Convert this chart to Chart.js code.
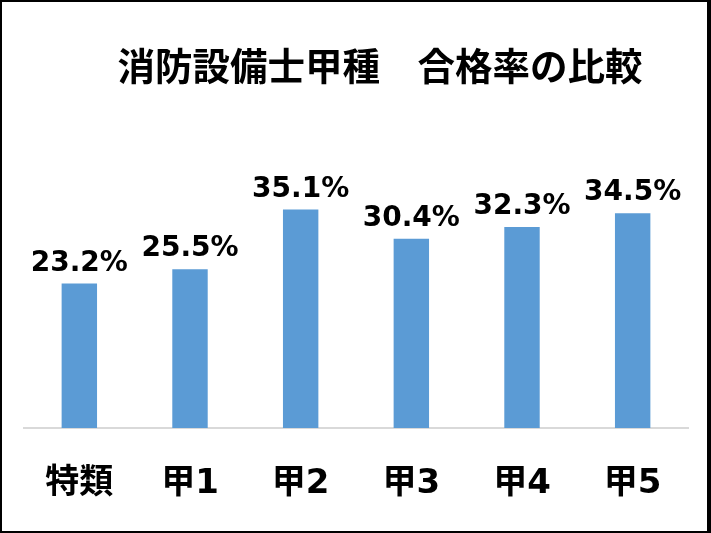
<!DOCTYPE html>
<html lang="ja">
<head>
<meta charset="utf-8">
<script src="https://cdn.jsdelivr.net/npm/chart.js@4.4.1/dist/chart.umd.min.js"></script>
<style>
    html, body { margin: 0; padding: 0; background: #fff; }
    #frame {
        position: relative;
        width: 711px;
        height: 533px;
        box-sizing: border-box;
        border: 2px solid #000;
        border-right-width: 4px;
        background: #fff;
    }
    #title {
        position: absolute;
        left: 52px;
        width: 652px;
        top: 40px;
        text-align: center;
        font-family: "Noto Sans CJK JP", sans-serif;
        font-weight: bold;
        font-size: 37.5px;
        line-height: 44px;
        color: #000;
        z-index: 2;
    }
    #chartBox { position: absolute; left: 0; top: 0; width: 705px; height: 529px; }
</style>
</head>
<body>
<div id="frame">
    <div id="title">消防設備士甲種　合格率の比較</div>
    <div id="chartBox"><canvas id="passChart"></canvas></div>
</div>
<script>
// 合格率データ
const categories = ['特類', '甲1', '甲2', '甲3', '甲4', '甲5'];
const passRates = [23.2, 25.5, 35.1, 30.4, 32.3, 34.5];
const yMin = 0;
const yMax = 40;

// バーの上に値ラベルを描く
const valueLabels = {
    id: 'valueLabels',
    afterDatasetsDraw(chart) {
        const ctx = chart.ctx;
        const meta = chart.getDatasetMeta(0);
        ctx.save();
        ctx.font = 'bold 28px "DejaVu Sans", sans-serif';
        ctx.fillStyle = '#000';
        ctx.textAlign = 'center';
        ctx.textBaseline = 'alphabetic';
        meta.data.forEach(function(bar, i) {
            ctx.fillText(passRates[i].toFixed(1) + '%', bar.x, bar.y - 13);
        });
        ctx.restore();
    }
};

function initPassChart() {
    const ctx = document.getElementById('passChart');
    if (!ctx) return;

    new Chart(ctx, {
        type: 'bar',
        data: {
            labels: categories,
            datasets: [{
                label: '合格率',
                data: passRates,
                backgroundColor: '#5B9BD5',
                borderWidth: 0,
                categoryPercentage: 1.0,
                barPercentage: 0.32
            }]
        },
        options: {
            responsive: true,
            maintainAspectRatio: false,
            animation: false,
            layout: {
                padding: { left: 22, right: 19, top: 177, bottom: 33 }
            },
            plugins: {
                legend: { display: false },
                title: { display: false },
                tooltip: { enabled: false }
            },
            scales: {
                y: {
                    display: false,
                    min: yMin,
                    max: yMax
                },
                x: {
                    grid: { display: false, drawTicks: false },
                    border: { display: true, color: '#d9d9d9', width: 2 },
                    afterFit: function(scale) {
                        scale.height = 70;
                    },
                    ticks: {
                        color: '#000',
                        padding: 36,
                        maxRotation: 0,
                        font: {
                            family: '"DejaVu Sans", "Noto Sans CJK JP", sans-serif',
                            weight: 'bold',
                            size: 34
                        }
                    }
                }
            }
        },
        plugins: [valueLabels]
    });
}

document.addEventListener('DOMContentLoaded', function() {
    initPassChart();
});
</script>
</body>
</html>
